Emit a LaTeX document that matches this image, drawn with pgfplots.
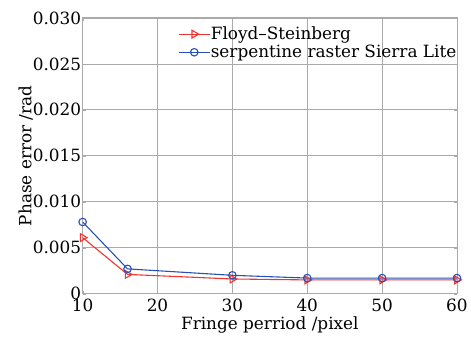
\documentclass[border=0pt]{standalone}
\usepackage{pgfplots}
\pgfplotsset{compat=1.18}
\usepackage{fontspec}
\setmainfont{DejaVu Serif}
\definecolor{myred}{RGB}{245,50,45}
\definecolor{myblue}{RGB}{40,80,185}
\definecolor{gridgray}{RGB}{170,170,170}
\newcommand{\bigf}{\fontsize{17}{19}\selectfont}
\begin{document}
\begin{tikzpicture}
\begin{axis}[
  scale only axis,
  width=376bp, height=277bp,
  xmin=10, xmax=60, ymin=0, ymax=0.03,
  xtick={10,20,30,40,50,60},
  ytick={0,0.005,0.01,0.015,0.02,0.025,0.03},
  yticklabels={0,0.005,0.010,0.015,0.020,0.025,0.030},
  scaled y ticks=false,
  /pgf/number format/assume math mode=true,
  tick label style={font=\bigf},
  label style={font=\bigf},
  grid=major,
  major grid style={gridgray, line width=0.7pt},
  axis line style={gridgray, line width=0.9pt},
  tick style={gridgray},
  tick align=inside,
  major tick length=3pt,
  xlabel={Fringe perriod /pixel},
  ylabel={Phase error /rad},
  xlabel style={yshift=2pt},
  ylabel style={yshift=-7pt},
  xticklabel style={yshift=-1.5pt},
  yticklabel style={xshift=2pt},
  legend style={draw=none, fill=none, at={(rel axis cs:1,0.975)}, anchor=north east,
    font=\bigf, inner xsep=0pt, inner ysep=0pt, row sep=0pt,
    nodes={inner xsep=0.5pt},
    cells={anchor=west}},
  legend image code/.code={
    \draw[mark repeat=2,mark phase=2] plot coordinates {(0cm,0cm) (0.55cm,0cm) (1.1cm,0cm)};
  },
]
\addplot[myred, line width=1.1pt, mark=triangle, mark size=4.5pt, mark options={rotate=-90, fill=none, line width=1.1pt}]
  coordinates {(10,0.0061) (16,0.0021) (30,0.0016) (40,0.0015) (50,0.0015) (60,0.0015)};
\addlegendentry{Floyd--Steinberg}
\addplot[myblue, line width=1.1pt, mark=o, mark size=3.8pt, mark options={line width=1.1pt}]
  coordinates {(10,0.0078) (16,0.0027) (30,0.0020) (40,0.0017) (50,0.0017) (60,0.0017)};
\addlegendentry{serpentine raster Sierra Lite}
\end{axis}
\path (current axis.south west) ++(-83bp,-49bp);
\path (current axis.north east) ++(12bp,18bp);
\end{tikzpicture}
\end{document}
